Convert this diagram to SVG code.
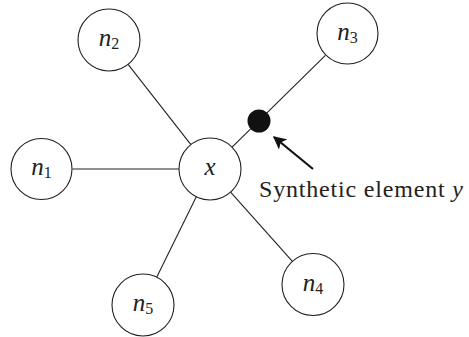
<svg xmlns="http://www.w3.org/2000/svg" width="469" height="337" viewBox="0 0 469 337">
<style>
.node{fill:#fff;stroke:#222;stroke-width:1.1}
.edge{stroke:#222;stroke-width:1.1;fill:none}
.lbl{font-family:"Liberation Serif",serif;font-size:25px;font-style:italic;fill:#222;text-anchor:middle}
.sub{font-size:16px;font-style:normal}
.txt{font-family:"Liberation Serif",serif;font-size:24px;fill:#222}
</style>
<defs>
<marker id="ah" viewBox="0 0 10 10" refX="9" refY="5" markerWidth="6" markerHeight="6" orient="auto" markerUnits="strokeWidth">
<path d="M0,0 L10,5 L0,10 L2.5,5 Z" fill="#111"/>
</marker>
</defs>
<g id="connectors">
<line class="edge" x1="72.5" y1="169" x2="179" y2="169"/>
<line class="edge" x1="128.1" y1="64.4" x2="190.9" y2="144.6"/>
<line class="edge" x1="232.1" y1="147.2" x2="325.4" y2="55.3"/>
<line class="edge" x1="230.6" y1="192.1" x2="292.4" y2="261.4"/>
<line class="edge" x1="196.3" y1="196.8" x2="156.7" y2="277.2"/>
<line x1="313" y1="169" x2="274" y2="137" stroke="#111" stroke-width="2.2" marker-end="url(#ah)"/>
</g>
<g id="x"><circle class="node" cx="210" cy="169" r="31"/><text class="lbl" x="210" y="175">x</text></g>
<g id="n1"><circle class="node" cx="41.5" cy="169" r="30.5"/><text class="lbl" x="41.5" y="175">n<tspan class="sub" dy="3">1</tspan></text></g>
<g id="n2"><circle class="node" cx="109" cy="40" r="31"/><text class="lbl" x="109" y="46">n<tspan class="sub" dy="3">2</tspan></text></g>
<g id="n3"><circle class="node" cx="347.5" cy="33.5" r="30.5"/><text class="lbl" x="347.5" y="39.5">n<tspan class="sub" dy="3">3</tspan></text></g>
<g id="n4"><circle class="node" cx="313" cy="284.5" r="31"/><text class="lbl" x="313" y="290.5">n<tspan class="sub" dy="3">4</tspan></text></g>
<g id="n5"><circle class="node" cx="143" cy="305" r="31"/><text class="lbl" x="143" y="311">n<tspan class="sub" dy="3">5</tspan></text></g>
<g id="y"><circle cx="259" cy="121" r="11.5" fill="#111"/></g>
<g id="label-y"><text class="txt" x="259" y="197" textLength="204" lengthAdjust="spacing">Synthetic element <tspan font-style="italic">y</tspan></text></g>
</svg>
